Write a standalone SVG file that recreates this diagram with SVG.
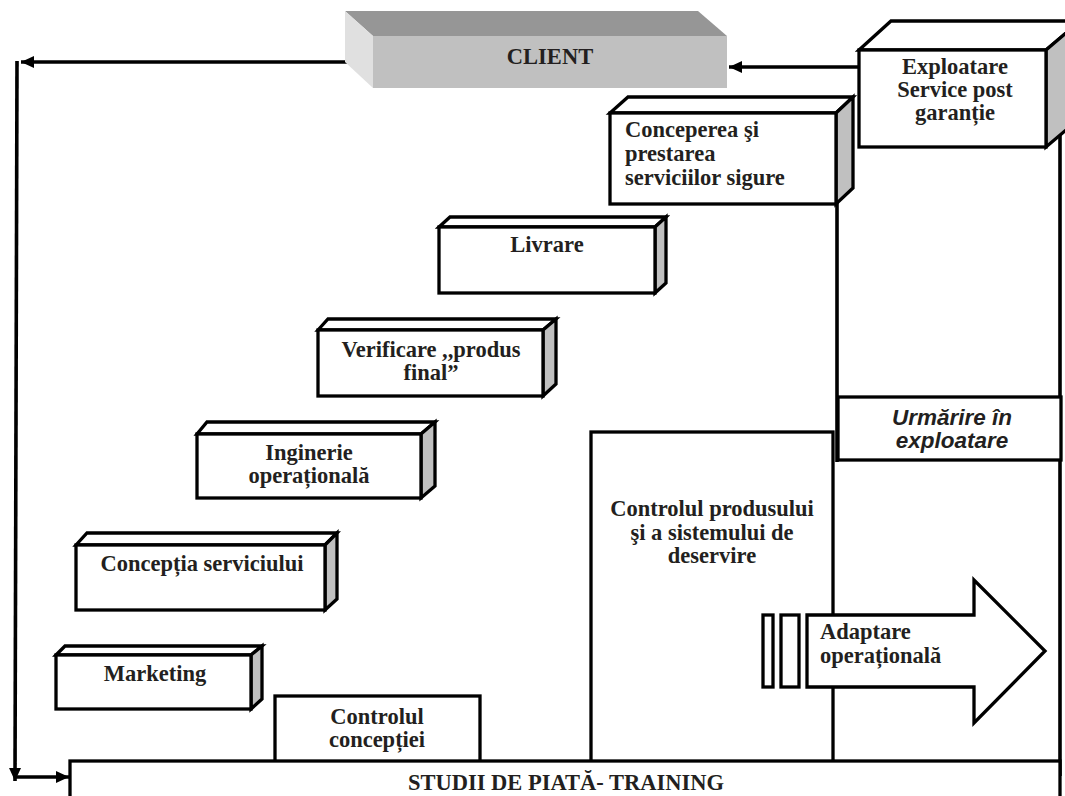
<svg xmlns="http://www.w3.org/2000/svg" width="1065" height="796" viewBox="0 0 1065 796">
<style>
.box{fill:#fff;stroke:#000;stroke-width:3.3;stroke-linejoin:miter}
.side{fill:#c0c0c0;stroke:#000;stroke-width:3.3;stroke-linejoin:miter}
.t{font-family:"Liberation Serif","Times New Roman",serif;font-weight:bold;font-size:22.5px;fill:#231f20}
.c{text-anchor:middle}
.it{font-family:"Liberation Sans",Arial,sans-serif;font-weight:bold;font-style:italic;font-size:22.5px;fill:#231f20;text-anchor:middle}
.ln{fill:none;stroke:#000;stroke-width:3.6}
</style>
<defs>
<marker id="ah" markerUnits="userSpaceOnUse" markerWidth="14" markerHeight="12" refX="13" refY="6" orient="auto">
<path d="M0,0 L13,6 L0,12 z" fill="#000"/>
</marker>
</defs>
<rect width="1065" height="796" fill="#fff"/>

<g id="connectors">
<line class="ln" x1="354" y1="62" x2="21" y2="62" marker-end="url(#ah)"/>
<line class="ln" x1="17" y1="61" x2="15" y2="781" marker-end="url(#ah)"/>
<line class="ln" x1="15" y1="777" x2="69" y2="777" marker-end="url(#ah)"/>
<line class="ln" x1="858" y1="67" x2="729" y2="67" marker-end="url(#ah)"/>
<line class="ln" x1="837" y1="203" x2="837" y2="462"/>
<line class="ln" x1="1060" y1="130" x2="1060" y2="776"/>
</g>

<g id="client">
<polygon points="345,11 698,11 727,36 373,36" fill="#969696"/>
<polygon points="345,11 373,36 373,88 345,62" fill="#e0e0e0"/>
<rect x="373" y="36" width="354" height="52" fill="#c0c0c0"/>
<text class="t c" x="550" y="64">CLIENT</text>
</g>

<g id="exploatare">
<polygon class="box" points="859,50 891,21 1080,21 1046,50"/>
<polygon class="side" points="1046,50 1080,21 1080,118 1046,147"/>
<rect class="box" x="859" y="50" width="187" height="97"/>
<text class="t c" x="955" y="74">Exploatare</text>
<text class="t c" x="955" y="97">Service post</text>
<text class="t c" x="955" y="120">garanție</text>
</g>

<g id="conceperea">
<polygon class="box" points="610,113 628,97 853,97 836,113"/>
<polygon class="side" points="836,113 853,97 853,188 836,204"/>
<rect class="box" x="610" y="113" width="226" height="91"/>
<text class="t" x="625" y="137">Conceperea şi</text>
<text class="t" x="625" y="161">prestarea</text>
<text class="t" x="625" y="185">serviciilor sigure</text>
</g>

<g id="livrare">
<polygon class="box" points="439,227 450,217 666,217 655,227"/>
<polygon class="side" points="655,227 666,217 666,283 655,293"/>
<rect class="box" x="439" y="227" width="216" height="66"/>
<text class="t c" x="547" y="252">Livrare</text>
</g>

<g id="verificare">
<polygon class="box" points="318,330 328,319 556,319 543,330"/>
<polygon class="side" points="543,330 556,319 556,384 543,396"/>
<rect class="box" x="318" y="330" width="225" height="66"/>
<text class="t c" x="431" y="357">Verificare ,,produs</text>
<text class="t c" x="431" y="380">final”</text>
</g>

<g id="inginerie">
<polygon class="box" points="197,434 207,422 435,422 421,434"/>
<polygon class="side" points="421,434 435,422 435,486 421,498"/>
<rect class="box" x="197" y="434" width="224" height="64"/>
<text class="t c" x="309" y="460">Inginerie</text>
<text class="t c" x="309" y="483">operațională</text>
</g>

<g id="conceptia">
<polygon class="box" points="76,545 87,533 337,533 325,545"/>
<polygon class="side" points="325,545 337,533 337,599 325,610"/>
<rect class="box" x="76" y="545" width="249" height="65"/>
<text class="t c" x="202" y="571">Concepția serviciului</text>
</g>

<g id="marketing">
<polygon class="box" points="56,655 65,646 262,646 251,655"/>
<polygon class="side" points="251,655 262,646 262,699 251,709"/>
<rect class="box" x="56" y="655" width="195" height="54"/>
<text class="t c" x="155" y="681">Marketing</text>
</g>

<g id="controlul-conceptiei">
<rect class="box" x="275" y="696" width="205" height="66"/>
<text class="t c" x="377" y="724">Controlul</text>
<text class="t c" x="377" y="747">concepției</text>
</g>

<g id="controlul-produsului">
<rect class="box" x="591" y="432" width="242" height="330"/>
<text class="t c" x="712" y="516">Controlul produsului</text>
<text class="t c" x="712" y="540">şi a sistemului de</text>
<text class="t c" x="712" y="563">deservire</text>
</g>

<g id="urmarire">
<rect class="box" x="838" y="397" width="223" height="63"/>
<text class="it" x="952" y="425">Urmărire în</text>
<text class="it" x="952" y="448">exploatare</text>
</g>

<g id="adaptare">
<rect class="box" x="763" y="615" width="10" height="72"/>
<rect class="box" x="781" y="615" width="18" height="72"/>
<polygon class="box" points="807,615 974,615 974,580 1045,651 974,723 974,687 807,687"/>
<text class="t" x="820" y="639">Adaptare</text>
<text class="t" x="820" y="663">operațională</text>
</g>

<g id="studii">
<rect class="box" x="70" y="761" width="990" height="50"/>
<text class="t c" x="566" y="790">STUDII DE PIATĂ- TRAINING</text>
</g>
</svg>
